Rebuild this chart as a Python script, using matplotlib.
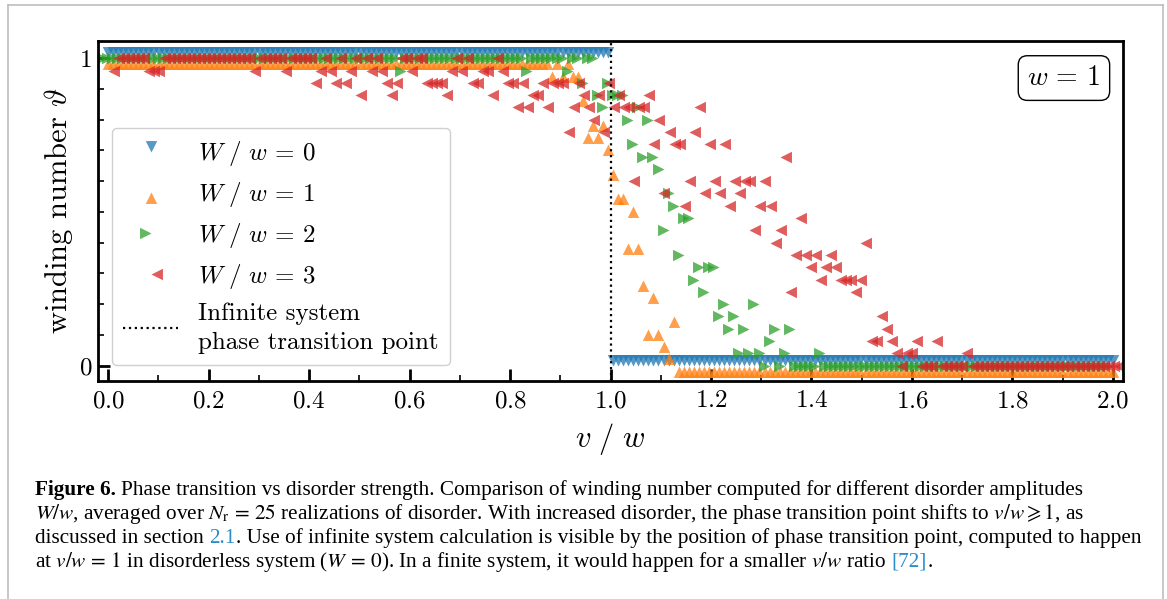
import numpy as np
import matplotlib
matplotlib.use('Agg')
import matplotlib.pyplot as plt
from matplotlib.path import Path
from matplotlib.lines import Line2D
from matplotlib.ticker import MultipleLocator

plt.rcParams['font.family'] = 'serif'
plt.rcParams['font.serif'] = ['cmr10']
plt.rcParams['mathtext.fontset'] = 'cm'
plt.rcParams['axes.formatter.use_mathtext'] = True

# --- data: winding number averaged over 25 disorder realizations ---
v_over_w = np.linspace(0, 2, 200)

theta_W0 = [1.0] * 100 + [0.0] * 100

theta_W1 = ([1.0] * 88 +
            [.96, 1, .96, 1, .96, .96, .88, .76, .80, .76, .80, .72,
             .64, .56, .56, .40, .52, .40, .28, .12, .24, .12,
             .08, .04, .16] +
            [0.0] * 87)

theta_W2 = ([1.0] * 59 + [.96] + [1.0] * 24 + [.96] + [1.0] * 7 +
            [.96, 1, 1, .92, 1, 1, .88, .84,
             .92, .88, .88, .88, .80, .72, .84, .68, .80, .68,
             .64, .44, .56, .52, .36, .48, .48, .28, .32, .24,
             .32, .32, .16, .20, .12, .16, .04, .12, .04, .20,
             .04, 0, .08, .12, 0, .04, .12, 0, 0, 0,
             0, 0, .04] +
            [0.0] * 57)

theta_W3 = ([.96, 1, 1, 1, 1, 1, 1, .96, .96, .96] +
            [1.0] * 18 + [.96] + [1.0] * 5 + [.96] + [1.0] * 5 +
            [.92, .96, 1, .96, .92, 1, .92, .96, 1, .88,
             1, .96, 1, .96, .92, .88, .92, 1, 1, .96,
             1, 1, .92, .92, .92, .92, .88, .96, 1, .96,
             1, .92, .92, .96, .96, .88, 1, .96, .92, .92,
             .84, .92, .84, .88, .88, .92, .84, .92, .92, .92,
             .76, .84, .92, .88, .84, .80, .88, .76, .92, .84,
             .88, .84, .84, .60, .84, .84, .88, .72, .80, .56,
             .76, .72, .72, .52, .60, .76, .84, .56, .72, .60,
             .56, .72, .52, .60, .56, .60, .60, .44, .52, .60,
             .52, .40, .44, .68, .24, .36, .48, .36, .32, .36,
             .28, .32, .36, .32, .28, .28, .28, .24, .28, .40,
             .08, .08, .16, .12, .08, .04, 0, .04, .04, .08,
             0, 0, 0, .08, 0, 0, 0, 0, 0, .04] +
            [0.0] * 30)

series = [theta_W0, theta_W1, theta_W2, theta_W3]
labels = [r'$W\ /\ w\,=\,0$', r'$W\ /\ w\,=\,1$', r'$W\ /\ w\,=\,2$', r'$W\ /\ w\,=\,3$']
colors = ['tab:blue', 'tab:orange', 'tab:green', 'tab:red']


# triangles anchored at their tip
def tip_triangle(pts):
    return Path(pts + [pts[0]], [Path.MOVETO, Path.LINETO, Path.LINETO, Path.CLOSEPOLY])


markers = [tip_triangle([(0, 0), (-1, 2), (1, 2)]),
           tip_triangle([(0, 0), (-1, -2), (1, -2)]),
           tip_triangle([(0, 0), (-2, -1), (-2, 1)]),
           tip_triangle([(0, 0), (2, -1), (2, 1)])]

W, H = 1167, 599
fig = plt.figure(figsize=(W / 100, H / 100), dpi=100)
ax = fig.add_axes([98 / W, 1 - 381 / H, (1123 - 98) / W, 340 / H])

for y, lab, c, m in zip(series, labels, colors, markers):
    ax.plot(v_over_w, y, ls='none', marker=m, ms=16.5, mew=0, color=c, alpha=0.75, label=lab)

ax.axvline(1.0, ls=':', color='k', lw=1.6, label='Infinite system\nphase transition point')

ax.set_xlim(-0.02, 2.02)
ax.set_ylim(-0.05, 1.056)
ax.xaxis.set_major_locator(MultipleLocator(0.2))
ax.xaxis.set_minor_locator(MultipleLocator(0.1))
ax.set_yticks([0, 1])
ax.set_yticklabels(['0', '1'])
ax.yaxis.set_minor_locator(MultipleLocator(0.1))

for s in ax.spines.values():
    s.set_linewidth(2)
ax.tick_params(which='major', direction='in', length=8.5, width=2, labelsize=18)
ax.tick_params(which='minor', direction='in', length=4, width=1.2)
ax.tick_params(axis='x', pad=6.5)
ax.tick_params(axis='y', pad=4)

ax.set_xlabel(r'$v\ /\ w$', fontsize=22)
ax.xaxis.set_label_coords(0.5, -0.118)
ax.set_ylabel(r'winding number $\vartheta$', fontsize=22)
ax.yaxis.set_label_coords(-0.022, 0.5)

leg = ax.legend(loc='upper left', bbox_to_anchor=(0.0137, 0.744), borderaxespad=0,
                fontsize=18, numpoints=1, handlelength=2.2, handletextpad=0.8,
                labelspacing=0.47, borderpad=0.45, fancybox=True, framealpha=1,
                edgecolor='#d0d0d0')
leg.get_frame().set_linewidth(1.0)
leg.get_texts()[-1].set_linespacing(1.4)

ax.text(0.9424, 0.891, r'$w\,=\,1$', transform=ax.transAxes, fontsize=20,
        ha='center', va='center',
        bbox=dict(boxstyle='round,pad=0.33', fc='white', ec='black', lw=1.0))

# page frame
frame_kw = dict(transform=fig.transFigure, color='#bdbdbd', lw=1.2)
fig.add_artist(Line2D([8 / W, 8 / W], [0, 1 - 4.5 / H], **frame_kw))
fig.add_artist(Line2D([8 / W, 1163 / W], [1 - 4.5 / H, 1 - 4.5 / H], **frame_kw))
fig.add_artist(Line2D([1163 / W, 1163 / W], [0, 1 - 4.5 / H], **frame_kw))

# caption
link = '#2a8cc9'
cap_size = 15.3
caption = [
    (495, [('Figure 6.', 'k', 'bold', True),
           ('Phase transition vs disorder strength. Comparison of winding number computed '
            'for different disorder amplitudes', 'k', 'normal', False)]),
    (519, [(r'$W/w$, averaged over $N_\mathrm{r}\,=\,25$ realizations of disorder. With increased '
            r'disorder, the phase transition point shifts to $v/w \geqslant 1$, as', 'k', 'normal', False)]),
    (543, [('discussed in section', 'k', 'normal', True),
           ('2.1', link, 'normal', False),
           ('. Use of infinite system calculation is visible by the position of phase transition '
            'point, computed to happen', 'k', 'normal', False)]),
    (567, [(r'at $v/w\,=\,1$ in disorderless system ($W\,=\,0$). In a finite system, it would happen '
            r'for a smaller $v/w$ ratio', 'k', 'normal', True),
           ('[72]', link, 'normal', False),
           ('.', 'k', 'normal', False)]),
]

renderer = fig.canvas.get_renderer()
space = cap_size * 100 / 72 * 0.25
for y_px, pieces in caption:
    x = 35
    for txt, col, wt, gap in pieces:
        t = fig.text(x / W, 1 - y_px / H, txt, color=col, fontweight=wt, fontsize=cap_size,
                     family='Liberation Serif', math_fontfamily='stix', va='baseline')
        bb = t.get_window_extent(renderer)
        x = bb.x1 + (space if gap else 1)

fig.savefig('out.png', dpi=100)
